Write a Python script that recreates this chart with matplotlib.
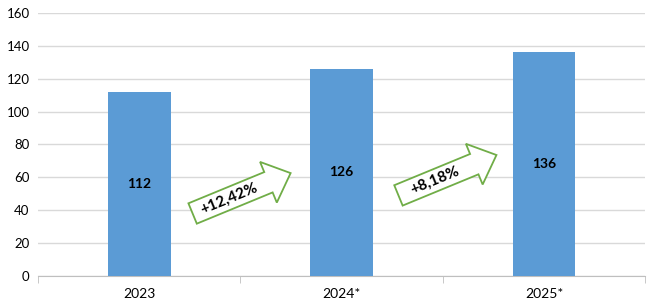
import matplotlib.pyplot as plt
import matplotlib.transforms as mtransforms
from matplotlib.patches import Polygon

plt.rcParams["font.family"] = ["Lato", "DejaVu Sans"]

years = ["2023", "2024*", "2025*"]
values = [112, 126, 136]
growth_labels = ["+12,42%", "+8,18%"]
# where each arrow's tail sits, in data units (x between categories, y on value scale)
arrow_x = [0.264, 1.281]
arrow_y = [38.0, 49.0]

BAR_COLOR = "#5b9bd5"
ARROW_COLOR = "#70ad47"


def arrow_shape(length=1.06, half_body=0.11, half_head=0.22, head_len=0.24):
    # arrow outline in inches, tail centre at origin, pointing along +x
    b = length - head_len
    return [(0, -half_body), (b, -half_body), (b, -half_head), (length, 0),
            (b, half_head), (b, half_body), (0, half_body)]


def draw_growth_arrow(fig, ax, x, y, text, angle=22.4):
    tr = (mtransforms.Affine2D().rotate_deg(angle) + fig.dpi_scale_trans
          + mtransforms.ScaledTranslation(x, y, ax.transData))
    ax.add_patch(Polygon(arrow_shape(), closed=True, transform=tr, facecolor="white",
                         edgecolor=ARROW_COLOR, linewidth=1.3, zorder=4, clip_on=False))
    ax.text(0.39, 0.0, text, transform=tr, rotation=angle, rotation_mode="anchor",
            ha="center", va="center", fontsize=11, fontweight="bold", zorder=5)


fig = plt.figure(figsize=(6.55, 3.08), dpi=100)
ax = fig.add_axes([0.058, 0.104, 0.927, 0.854])

x = list(range(len(years)))
bars = ax.bar(x, values, width=0.31, color=BAR_COLOR, zorder=3)
for rect, v in zip(bars, values):
    ax.text(rect.get_x() + rect.get_width() / 2, v / 2, str(v), ha="center", va="center",
            fontsize=10, fontweight="bold", zorder=4)

ax.set_xlim(-0.5, 2.5)
ax.set_ylim(0, 160)
ax.set_yticks(range(0, 161, 20))
ax.yaxis.grid(True, color="#d9d9d9", linewidth=1)
ax.set_axisbelow(True)

ax.set_xticks(x)
ax.set_xticklabels(years)
ax.set_xticks([-0.5, 0.5, 1.5, 2.5], minor=True)
ax.tick_params(axis="x", which="major", length=0, pad=9, labelsize=10)
ax.tick_params(axis="x", which="minor", length=5, color="#bfbfbf", direction="out")
ax.tick_params(axis="y", length=0, pad=6, labelsize=9.5)

for side in ["left", "right", "top"]:
    ax.spines[side].set_visible(False)
ax.spines["bottom"].set_color("#bfbfbf")

for ax_x, ax_y, label in zip(arrow_x, arrow_y, growth_labels):
    draw_growth_arrow(fig, ax, ax_x, ax_y, label)

fig.savefig("out.png", dpi=100)
